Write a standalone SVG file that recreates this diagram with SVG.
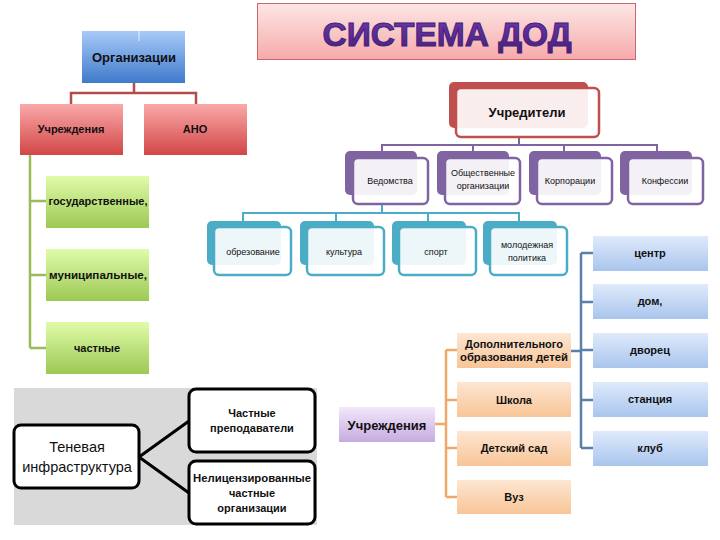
<svg xmlns="http://www.w3.org/2000/svg" width="720" height="540" viewBox="0 0 720 540">
<defs>
<linearGradient id="gTitle" x1="0" y1="0" x2="0" y2="1"><stop offset="0" stop-color="#fde6e6"/><stop offset="1" stop-color="#f6aaaa"/></linearGradient>
<linearGradient id="gTitleText" x1="0" y1="0" x2="0" y2="1"><stop offset="0" stop-color="#6f3aab"/><stop offset="1" stop-color="#45207a"/></linearGradient>
<linearGradient id="gBlue" x1="0" y1="0" x2="0" y2="1"><stop offset="0" stop-color="#a8caf8"/><stop offset="1" stop-color="#3f7acb"/></linearGradient>
<linearGradient id="gRed" x1="0" y1="0" x2="0" y2="1"><stop offset="0" stop-color="#faa9a9"/><stop offset="1" stop-color="#d24646"/></linearGradient>
<linearGradient id="gGreen" x1="0" y1="0" x2="0" y2="1"><stop offset="0" stop-color="#e0fba9"/><stop offset="1" stop-color="#9cc955"/></linearGradient>
<linearGradient id="gLBlue" x1="0" y1="0" x2="0" y2="1"><stop offset="0" stop-color="#dfeafb"/><stop offset="1" stop-color="#a9c5ed"/></linearGradient>
<linearGradient id="gOrange" x1="0" y1="0" x2="0" y2="1"><stop offset="0" stop-color="#fde6d2"/><stop offset="1" stop-color="#f8c597"/></linearGradient>
<linearGradient id="gLav" x1="0" y1="0" x2="0" y2="1"><stop offset="0" stop-color="#f2e8fa"/><stop offset="1" stop-color="#c6abe0"/></linearGradient>
</defs>
<style>
text{font-family:"Liberation Sans",Arial,sans-serif;text-anchor:middle;fill:#111}
.b{font-weight:bold}
.s9{font-size:9px}
.s11{font-size:11px}
.s12{font-size:12px}
.s13{font-size:13px}
.pb{fill:#8064a2}
.pf{fill:#ffffff;fill-opacity:0.9;stroke:#8064a2;stroke-width:2.5}
.tb{fill:#4bacc6}
.tf{fill:#ffffff;fill-opacity:0.9;stroke:#4bacc6;stroke-width:2.5}
.bk{fill:#ffffff;stroke:#000;stroke-width:3}
.con{fill:none}
</style>
<rect x="0" y="0" width="720" height="540" fill="#ffffff"/>

<g id="title">
<rect x="257.5" y="3.5" width="378" height="56" fill="url(#gTitle)" stroke="#c9676a" stroke-width="1"/>
<text x="447" y="46" class="b" font-size="33" style="fill:url(#gTitleText);stroke:#45207a;stroke-width:1" textLength="249" lengthAdjust="spacingAndGlyphs">СИСТЕМА ДОД</text>
</g>

<g id="shadow-bg">
<rect x="14" y="388" width="303" height="137" fill="#d9d9d9"/>
</g>

<g id="connectors" class="con">
<path d="M134,83 V93 H71 V104 M134,93 H196 V104" stroke="#b44c4c" stroke-width="2.5"/>
<path d="M30,155 V348 M30,201 H46 M30,275 H46 M30,348 H46" stroke="#9bbb59" stroke-width="2.5"/>
<path d="M519,137 V145 M382,151 V145 H657 V151 M473,145 V151 M564,145 V151" stroke="#8064a2" stroke-width="2"/>
<path d="M382,204 V213 M243,221 V213 H519 V221 M336,213 V221 M428,213 V221" stroke="#4bacc6" stroke-width="2"/>
<path d="M581,253 V448 M581,253 H593 M581,302 H593 M581,350 H593 M581,400 H593 M581,448 H593 M571,351 H581" stroke="#5a7fa8" stroke-width="2.5"/>
<path d="M435,424 H446 M446,350 V497 M446,350 H457 M446,400 H457 M446,448 H457 M446,497 H457" stroke="#f0a868" stroke-width="2.5"/>
<path d="M139,457 L189,421 M139,457 L189,493" stroke="#000" stroke-width="3"/>
</g>

<g id="org">
<rect x="82" y="31" width="103" height="52" fill="url(#gBlue)"/>
<line x1="139" y1="31" x2="139" y2="41" stroke="#e6efff" stroke-width="1"/>
<text x="134" y="62" class="b s13">Организации</text>
</g>
<g id="uchr-red">
<rect x="20" y="104" width="103" height="51" fill="url(#gRed)"/>
<text x="71" y="133" class="b s11">Учреждения</text>
</g>
<g id="ano">
<rect x="144" y="104" width="103" height="51" fill="url(#gRed)"/>
<text x="195" y="133" class="b s11">АНО</text>
</g>

<g id="gos">
<rect x="46" y="176" width="103" height="52" fill="url(#gGreen)"/>
<text x="98" y="205" class="b s11" textLength="99" lengthAdjust="spacingAndGlyphs">государственные,</text>
</g>
<g id="mun">
<rect x="46" y="249" width="103" height="52" fill="url(#gGreen)"/>
<text x="98" y="279" class="b s11" textLength="98" lengthAdjust="spacingAndGlyphs">муниципальные,</text>
</g>
<g id="chast">
<rect x="46" y="322" width="103" height="52" fill="url(#gGreen)"/>
<text x="97" y="352" class="b s11">частные</text>
</g>

<g id="uchrediteli">
<rect x="449" y="82" width="139" height="46" rx="5" fill="#c0504d"/>
<rect x="456" y="88" width="143" height="49" rx="5" fill="#ffffff" fill-opacity="0.9" stroke="#c0504d" stroke-width="2.5"/>
<text x="527" y="117" class="b s13">Учредители</text>
</g>

<g id="vedomstva">
<rect x="345" y="151" width="72" height="44" rx="5" class="pb"/>
<rect x="353" y="158" width="75" height="46" rx="5" class="pf"/>
<text x="390" y="184" class="s9">Ведомства</text>
</g>
<g id="obsch">
<rect x="437" y="151" width="72" height="44" rx="5" class="pb"/>
<rect x="445" y="158" width="75" height="46" rx="5" class="pf"/>
<text x="483" y="176" class="s9">Общественные</text>
<text x="483" y="189" class="s9">организации</text>
</g>
<g id="korp">
<rect x="529" y="151" width="72" height="44" rx="5" class="pb"/>
<rect x="537" y="158" width="75" height="46" rx="5" class="pf"/>
<text x="570" y="184" class="s9">Корпорации</text>
</g>
<g id="konf">
<rect x="620" y="151" width="72" height="44" rx="5" class="pb"/>
<rect x="628" y="158" width="75" height="46" rx="5" class="pf"/>
<text x="665" y="184" class="s9">Конфессии</text>
</g>

<g id="obraz">
<rect x="207" y="221" width="74" height="44" rx="5" class="tb"/>
<rect x="214" y="227" width="77" height="48" rx="5" class="tf"/>
<text x="253" y="255" class="s9">обрезование</text>
</g>
<g id="kult">
<rect x="300" y="221" width="74" height="44" rx="5" class="tb"/>
<rect x="307" y="227" width="77" height="48" rx="5" class="tf"/>
<text x="344" y="255" class="s9">культура</text>
</g>
<g id="sport">
<rect x="392" y="221" width="74" height="44" rx="5" class="tb"/>
<rect x="399" y="227" width="77" height="48" rx="5" class="tf"/>
<text x="436" y="255" class="s9">спорт</text>
</g>
<g id="molod">
<rect x="483" y="221" width="74" height="44" rx="5" class="tb"/>
<rect x="490" y="227" width="77" height="48" rx="5" class="tf"/>
<text x="527" y="248" class="s9">молодежная</text>
<text x="527" y="261" class="s9">политика</text>
</g>

<g id="centr">
<rect x="593" y="236" width="115" height="35" fill="url(#gLBlue)"/>
<text x="650" y="257" class="b s11">центр</text>
</g>
<g id="dom">
<rect x="593" y="284" width="115" height="35" fill="url(#gLBlue)"/>
<text x="650" y="305" class="b s11">дом,</text>
</g>
<g id="dvorets">
<rect x="593" y="333" width="115" height="35" fill="url(#gLBlue)"/>
<text x="650" y="354" class="b s11">дворец</text>
</g>
<g id="stantsiya">
<rect x="593" y="382" width="115" height="35" fill="url(#gLBlue)"/>
<text x="650" y="403" class="b s11">станция</text>
</g>
<g id="klub">
<rect x="593" y="431" width="115" height="35" fill="url(#gLBlue)"/>
<text x="650" y="452" class="b s11">клуб</text>
</g>

<g id="uchr-lav">
<rect x="339" y="407" width="96" height="35" fill="url(#gLav)"/>
<text x="387" y="430" class="b s13">Учреждения</text>
</g>
<g id="dopobr">
<rect x="457" y="333" width="114" height="35" fill="url(#gOrange)"/>
<text x="514" y="348" class="b s11">Дополнительного</text>
<text x="514" y="361" class="b s11" textLength="108" lengthAdjust="spacingAndGlyphs">образования детей</text>
</g>
<g id="shkola">
<rect x="457" y="382" width="114" height="35" fill="url(#gOrange)"/>
<text x="514" y="404" class="b s11">Школа</text>
</g>
<g id="detsad">
<rect x="457" y="431" width="114" height="35" fill="url(#gOrange)"/>
<text x="514" y="452" class="b s11">Детский сад</text>
</g>
<g id="vuz">
<rect x="457" y="480" width="114" height="34" fill="url(#gOrange)"/>
<text x="514" y="501" class="b s11">Вуз</text>
</g>

<g id="tenevaya">
<rect x="14" y="425" width="125" height="63" rx="7" class="bk"/>
<text x="77" y="452" font-size="14.5">Теневая</text>
<text x="77" y="472" font-size="14.5">инфраструктура</text>
</g>
<g id="prepod">
<rect x="189" y="389" width="126" height="63" rx="7" class="bk"/>
<text x="252" y="417" class="b s11">Частные</text>
<text x="252" y="432" class="b s11">преподаватели</text>
</g>
<g id="nelits">
<rect x="189" y="461" width="126" height="63" rx="7" class="bk"/>
<text x="252" y="482" class="b s11" textLength="118" lengthAdjust="spacingAndGlyphs">Нелицензированные</text>
<text x="252" y="497" class="b s11">частные</text>
<text x="252" y="512" class="b s11">организации</text>
</g>
</svg>
